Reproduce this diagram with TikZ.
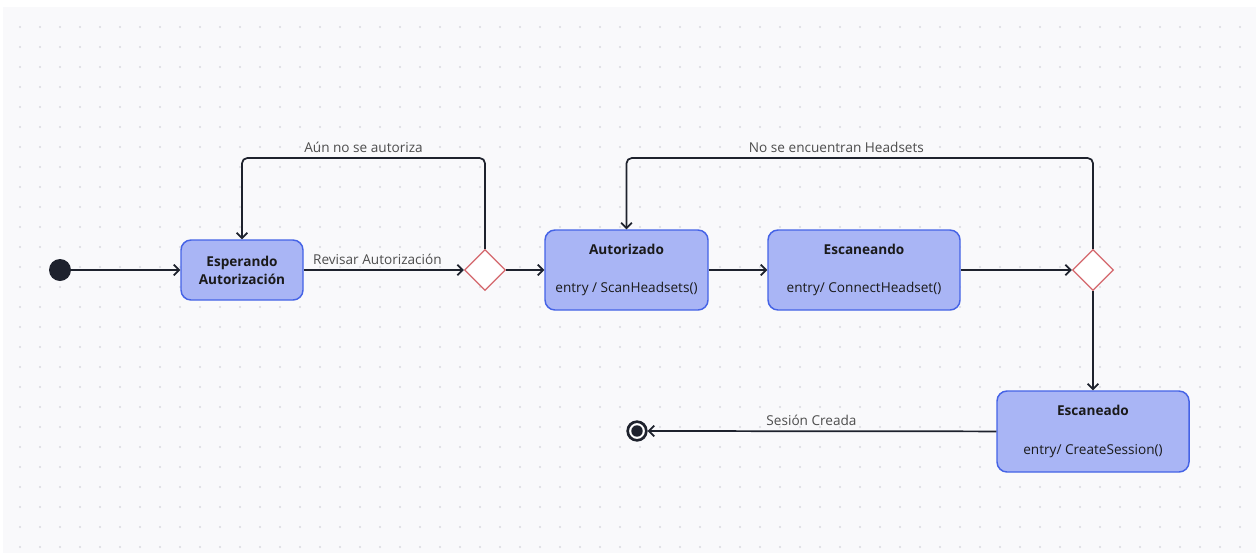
\documentclass[tikz,border=0pt]{standalone}
\usepackage{fontspec}
\setmainfont{Open Sans}
\usetikzlibrary{shapes.geometric,arrows.meta}
\definecolor{canvas}{HTML}{F9F9FB}
\definecolor{griddot}{HTML}{D9D9DF}
\definecolor{statefill}{HTML}{A9B5F5}
\definecolor{stateline}{HTML}{4563E6}
\definecolor{choiceline}{HTML}{D4676C}
\definecolor{linecol}{HTML}{1E222D}
\definecolor{labeltext}{HTML}{4D4D4D}
\definecolor{bodytext}{HTML}{1A1A1A}
\begin{document}
\begin{tikzpicture}[x=0.75pt,y=-0.75pt,
  every node/.style={font=\fontsize{10.2}{13.5}\selectfont},
  state/.style={rectangle,rounded corners=7.5pt,draw=stateline,fill=statefill,
    line width=1.1pt,align=center,inner sep=0pt,text=bodytext},
  choice/.style={diamond,draw=choiceline,fill=white,line width=0.9pt,
    minimum size=30.75pt,inner sep=0pt},
  start/.style={circle,fill=linecol,minimum size=16.5pt,inner sep=0pt},
  stop/.style={circle,draw=linecol,fill=white,line width=2pt,minimum size=14pt,inner sep=0pt,
    path picture={\fill[linecol] (path picture bounding box.center) circle (4.3pt);}},
  flow/.style={draw=linecol,line width=1.3pt,-{Straight Barb[length=4pt,width=8pt]}},
  lbl/.style={text=labeltext}]
\useasboundingbox (0,0) rectangle (1259,557);
% canvas
\fill[canvas] (3,7) rectangle (1256,553);
\foreach \i in {1,...,62}
  \foreach \j in {1,...,27}
    \fill[griddot] (20*\i,7+20*\j) circle (0.9pt);
% states
\node[start] (ini) at (60,270) {};
\node[state,minimum width=91.5pt,minimum height=45pt] (esp) at (242,270)
  {\textbf{Esperando}\\\textbf{Autorización}};
\node[choice] (d1) at (485,270) {};
\node[state,minimum width=122.25pt,minimum height=60pt] (aut) at (626.5,270)
  {\textbf{Autorizado}\\[15.5pt]entry / ScanHeadsets()};
\node[state,minimum width=144pt,minimum height=60pt] (esc) at (864,270)
  {\textbf{Escaneando}\\[15.5pt]entry/ ConnectHeadset()};
\node[choice] (d2) at (1093,270) {};
\node[state,minimum width=144pt,minimum height=60.75pt] (scn) at (1093,431.5)
  {\textbf{Escaneado}\\[15.5pt]entry/ CreateSession()};
\node[stop] (fin) at (637,431) {};
\coordinate (k1) at (485,158);
\coordinate (k2) at (1093,158);
% transitions
\draw[flow] (ini) -- (esp);
\draw[flow] (esp) -- node[lbl,above,pos=0.46]{Revisar Autorización} (d1);
\draw[flow,rounded corners=4pt] (d1.north) -- (k1) -| node[lbl,above,pos=0.25]{Aún no se autoriza} (esp.north);
\draw[flow] (d1) -- (aut);
\draw[flow] (aut) -- (esc);
\draw[flow] (esc) -- (d2);
\draw[flow,rounded corners=4pt] (d2.north) -- (k2) -| node[lbl,above,pos=0.275]{No se encuentran Headsets} (aut.north);
\draw[flow] (d2) -- (scn);
\draw[flow] (scn) -- node[lbl,above,pos=0.53]{Sesión Creada} (fin);
\end{tikzpicture}
\end{document}
